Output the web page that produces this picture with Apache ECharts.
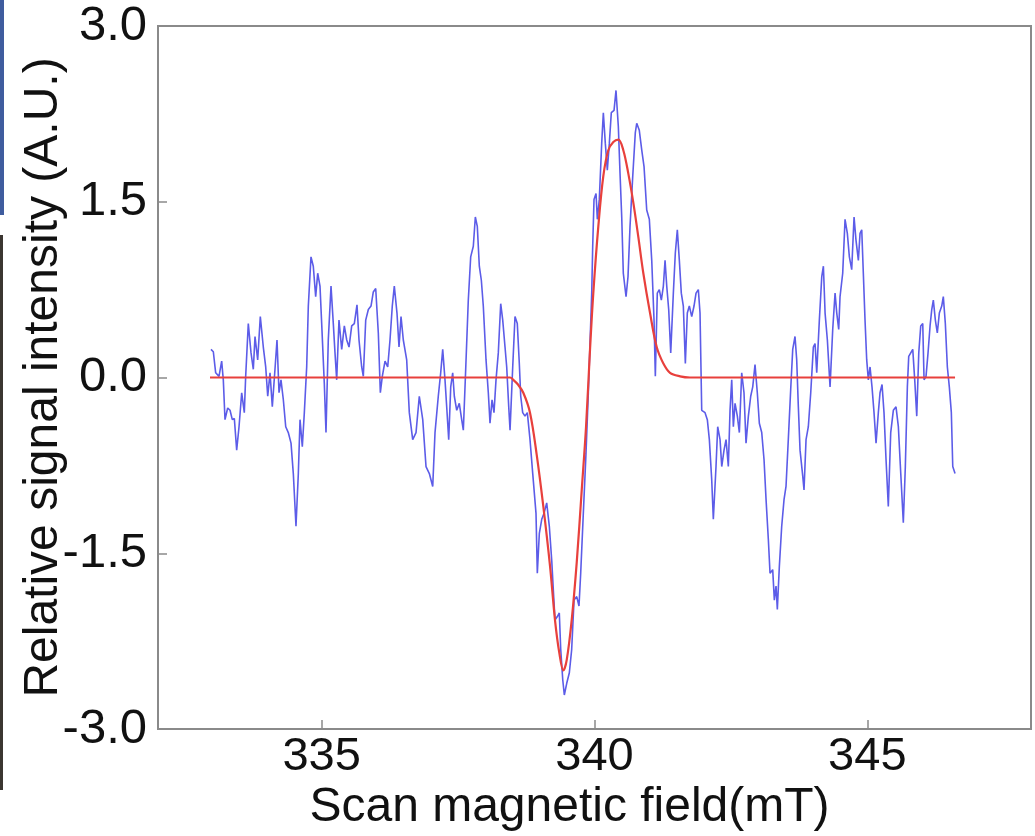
<!DOCTYPE html>
<html>
<head>
<meta charset="utf-8">
<script src="https://cdn.jsdelivr.net/npm/echarts@6/dist/echarts.min.js"></script>
<style>
html,body{margin:0;padding:0;background:#fff;}
#chart{width:1035px;height:836px;}
</style>
</head>
<body>
<div id="chart"></div>
<script>
// Measured EPR signal (blue) - field (mT)
const signalX = [332.971,333.014,333.057,333.118,333.167,333.197,333.228,333.277,333.320,333.362,333.399,333.442,333.485,333.534,333.582,333.607,333.655,333.705,333.747,333.778,333.827,333.875,333.930,333.974,334.011,334.053,334.095,334.144,334.181,334.218,334.254,334.297,334.341,334.388,334.438,334.480,334.529,334.572,334.603,334.645,334.682,334.725,334.755,334.804,334.846,334.890,334.927,334.969,335.000,335.048,335.079,335.121,335.171,335.213,335.244,335.275,335.317,335.367,335.415,335.459,335.501,335.550,335.598,335.647,335.684,335.733,335.763,335.807,335.855,335.904,335.946,335.990,336.038,336.075,336.111,336.161,336.210,336.252,336.294,336.331,336.380,336.417,336.454,336.496,336.558,336.606,336.668,336.729,336.789,336.852,336.912,336.973,337.035,337.077,337.137,337.181,337.218,337.260,337.291,337.328,337.365,337.401,337.431,337.475,337.522,337.566,337.596,337.632,337.687,337.731,337.779,337.816,337.852,337.889,337.926,337.962,338.012,338.054,338.085,338.122,338.158,338.195,338.237,338.281,338.318,338.360,338.391,338.428,338.452,338.501,338.543,338.585,338.622,338.648,338.684,338.726,338.769,338.818,338.868,338.928,338.952,338.989,339.033,339.075,339.124,339.172,339.216,339.245,339.276,339.319,339.355,339.381,339.418,339.447,339.491,339.539,339.582,339.625,339.674,339.716,339.747,339.795,339.844,339.887,339.918,339.949,339.967,339.991,340.028,340.052,340.088,340.132,340.162,340.198,340.235,340.272,340.308,340.358,340.394,340.437,340.468,340.499,340.528,340.578,340.614,340.651,340.701,340.748,340.774,340.821,340.866,340.908,340.957,341.005,341.049,341.091,341.115,341.151,341.188,341.225,341.262,341.293,341.324,341.360,341.397,341.445,341.481,341.518,341.555,341.591,341.628,341.665,341.701,341.738,341.782,341.824,341.861,341.903,341.934,341.965,342.026,342.068,342.105,342.148,342.178,342.227,342.258,342.301,342.332,342.374,342.411,342.453,342.484,342.515,342.545,342.576,342.618,342.655,342.698,342.740,342.777,342.820,342.863,342.900,342.942,342.984,343.021,343.065,343.107,343.144,343.186,343.217,343.266,343.296,343.327,343.351,343.388,343.431,343.474,343.510,343.552,343.596,343.633,343.675,343.706,343.736,343.767,343.816,343.840,343.877,343.919,343.963,344.011,344.042,344.073,344.121,344.165,344.195,344.226,344.268,344.317,344.366,344.409,344.440,344.476,344.500,344.549,344.592,344.634,344.671,344.714,344.757,344.793,344.836,344.867,344.898,344.927,344.958,344.989,345.019,345.050,345.086,345.123,345.160,345.202,345.233,345.270,345.306,345.343,345.385,345.429,345.477,345.526,345.569,345.613,345.660,345.697,345.734,345.759,345.796,345.833,345.869,345.906,345.943,345.979,346.016,346.040,346.076,346.113,346.150,346.181,346.210,346.247,346.283,346.320,346.364,346.393,346.430,346.467,346.503,346.540,346.566,346.608];
const signalY = [0.24,0.22,0.04,0.01,0.14,-0.02,-0.36,-0.26,-0.28,-0.36,-0.35,-0.62,-0.42,-0.13,-0.30,0.01,0.46,0.21,0.07,0.35,0.15,0.52,0.26,0.09,-0.16,0.04,-0.25,0.07,0.32,-0.13,-0.02,-0.19,-0.42,-0.47,-0.56,-0.82,-1.27,-0.82,-0.36,-0.59,-0.30,0.09,0.61,1.03,0.95,0.69,0.89,0.78,0.46,-0.05,-0.47,0.32,0.78,0.46,0.21,-0.02,0.49,0.24,0.44,0.32,0.26,0.44,0.46,0.62,0.32,0.09,0.01,0.49,0.58,0.61,0.73,0.76,0.38,-0.13,0.01,0.14,0.09,0.32,0.61,0.78,0.55,0.26,0.52,0.32,0.15,-0.30,-0.53,-0.47,-0.16,-0.36,-0.76,-0.82,-0.93,-0.47,-0.16,0.04,0.24,-0.02,-0.25,-0.53,-0.08,0.04,-0.16,-0.28,-0.22,-0.36,-0.45,-0.02,0.66,1.03,1.12,1.37,1.29,0.95,0.83,0.61,0.15,-0.13,-0.39,-0.19,-0.30,-0.02,0.21,0.63,0.49,0.26,0.09,-0.25,-0.45,0.09,0.52,0.46,0.12,-0.16,-0.30,-0.33,-0.30,-0.53,-0.82,-1.16,-1.67,-1.33,-1.21,-1.16,-1.07,-1.27,-1.56,-1.81,-2.07,-2.04,-2.01,-2.32,-2.58,-2.71,-2.61,-2.52,-2.32,-1.90,-1.87,-1.95,-1.67,-1.16,-0.65,-0.13,0.29,0.72,1.12,1.52,1.57,1.35,1.52,2.00,2.26,2.00,1.77,2.00,2.26,2.28,2.45,2.14,1.74,1.37,0.89,0.69,0.86,1.29,1.72,2.09,2.17,2.11,1.94,1.80,1.43,1.35,1.00,0.49,0.01,0.72,0.75,0.66,0.78,1.00,0.78,0.58,0.21,0.72,1.06,1.26,1.00,0.72,0.61,0.12,0.55,0.61,0.52,0.61,0.72,0.75,0.55,-0.28,-0.30,-0.36,-0.53,-0.87,-1.21,-0.76,-0.42,-0.53,-0.76,-0.62,-0.53,-0.76,-0.28,-0.02,-0.42,-0.22,-0.33,-0.47,0.04,-0.13,-0.56,-0.33,-0.16,-0.08,0.11,-0.13,-0.39,-0.47,-0.70,-1.04,-1.38,-1.67,-1.64,-1.90,-1.78,-1.98,-1.61,-1.27,-1.04,-0.93,-0.53,-0.10,0.24,0.35,0.15,-0.25,-0.62,-0.84,-0.96,-0.53,-0.42,-0.13,0.26,0.29,0.04,0.49,0.86,0.95,0.55,0.32,-0.08,0.41,0.72,0.55,0.41,0.69,0.89,1.35,1.23,1.03,0.92,1.37,1.17,1.00,1.23,1.26,0.89,0.49,0.15,-0.02,0.09,-0.08,-0.30,-0.56,-0.30,-0.13,-0.06,-0.30,-0.70,-1.10,-0.47,-0.28,-0.25,-0.42,-0.82,-1.24,-0.76,-0.08,0.18,0.21,0.24,-0.02,-0.33,0.21,0.44,0.46,-0.02,0.01,0.21,0.44,0.58,0.66,0.49,0.38,0.55,0.61,0.69,0.46,0.09,-0.08,-0.30,-0.76,-0.82];

// Fitted curve (red)
const fitX = [332.953,338.452,338.512,338.598,338.695,338.818,338.941,339.062,339.185,339.276,339.355,339.429,339.491,339.582,339.674,339.766,339.845,339.918,339.978,340.070,340.162,340.253,340.345,340.437,340.528,340.620,340.712,340.803,340.895,341.018,341.140,341.262,341.384,341.568,341.750,346.608];
const fitY = [0,0,-0.02,-0.06,-0.13,-0.30,-0.66,-1.10,-1.61,-2.07,-2.35,-2.50,-2.41,-2.07,-1.58,-0.96,-0.42,0.24,0.72,1.29,1.72,1.94,2.01,2.03,1.94,1.74,1.49,1.20,0.89,0.55,0.26,0.12,0.04,0.01,0,0];

// Axis ticks
const xTicks = [335, 340, 345];
const yTicks = [-3.0, -1.5, 0.0, 1.5, 3.0];

const signalData = signalX.map((x, i) => [x, signalY[i]]);
const fitData = fitX.map((x, i) => [x, fitY[i]]);

const chart = echarts.init(document.getElementById('chart'), null, {renderer: 'canvas'});
const axisColor = '#8a8a8a';
chart.setOption({
  animation: false,
  backgroundColor: '#ffffff',
  grid: {
    left: 158, top: 26, right: 4, bottom: 107,
    containLabel: false, outerBoundsMode: 'none',
    show: true, borderColor: axisColor, borderWidth: 2, backgroundColor: 'transparent'
  },
  graphic: [
    {type: 'rect', left: 0, top: 0, shape: {width: 4, height: 215}, style: {fill: '#3f5c9e'}},
    {type: 'rect', left: 0, top: 235, shape: {width: 3, height: 555}, style: {fill: '#3b3631'}}
  ],
  xAxis: {
    type: 'value', min: 332, max: 348,
    name: 'Scan magnetic field(mT)', nameLocation: 'middle', nameGap: 55, nameMoveOverlap: false,
    nameTextStyle: {fontFamily: 'Liberation Sans', fontSize: 48, color: '#111', verticalAlign: 'top', padding: [0, 50, 0, 0]},
    axisLine: {show: true, onZero: false, lineStyle: {color: axisColor, width: 2}},
    axisTick: {show: true, inside: true, length: 9, customValues: xTicks, lineStyle: {color: axisColor, width: 1.5}},
    axisLabel: {customValues: xTicks, fontFamily: 'Liberation Sans', fontSize: 47, color: '#111', margin: 5,
      formatter: v => String(v)},
    splitLine: {show: false}
  },
  yAxis: {
    type: 'value', min: -3, max: 3, interval: 1.5,
    name: 'Relative signal intensity (A.U.)', nameLocation: 'middle', nameGap: 90, nameRotate: 90, nameMoveOverlap: false,
    nameTextStyle: {fontFamily: 'Liberation Sans', fontSize: 48, color: '#111'},
    axisLine: {show: true, onZero: false, lineStyle: {color: axisColor, width: 2}},
    axisTick: {show: true, inside: true, length: 9, lineStyle: {color: axisColor, width: 1.5}},
    axisLabel: {fontFamily: 'Liberation Sans', fontSize: 49, color: '#111', margin: 11,
      formatter: v => v.toFixed(1)},
    splitLine: {show: false}
  },
  series: [
    {
      type: 'line', data: signalData, showSymbol: false, symbol: 'none',
      lineStyle: {color: '#5c5ce8', width: 1.6}, z: 2
    },
    {
      type: 'line', data: fitData, showSymbol: false, symbol: 'none', smooth: 0.35,
      lineStyle: {color: '#e8403c', width: 2.2}, z: 3
    }
  ]
});
</script>
</body>
</html>
